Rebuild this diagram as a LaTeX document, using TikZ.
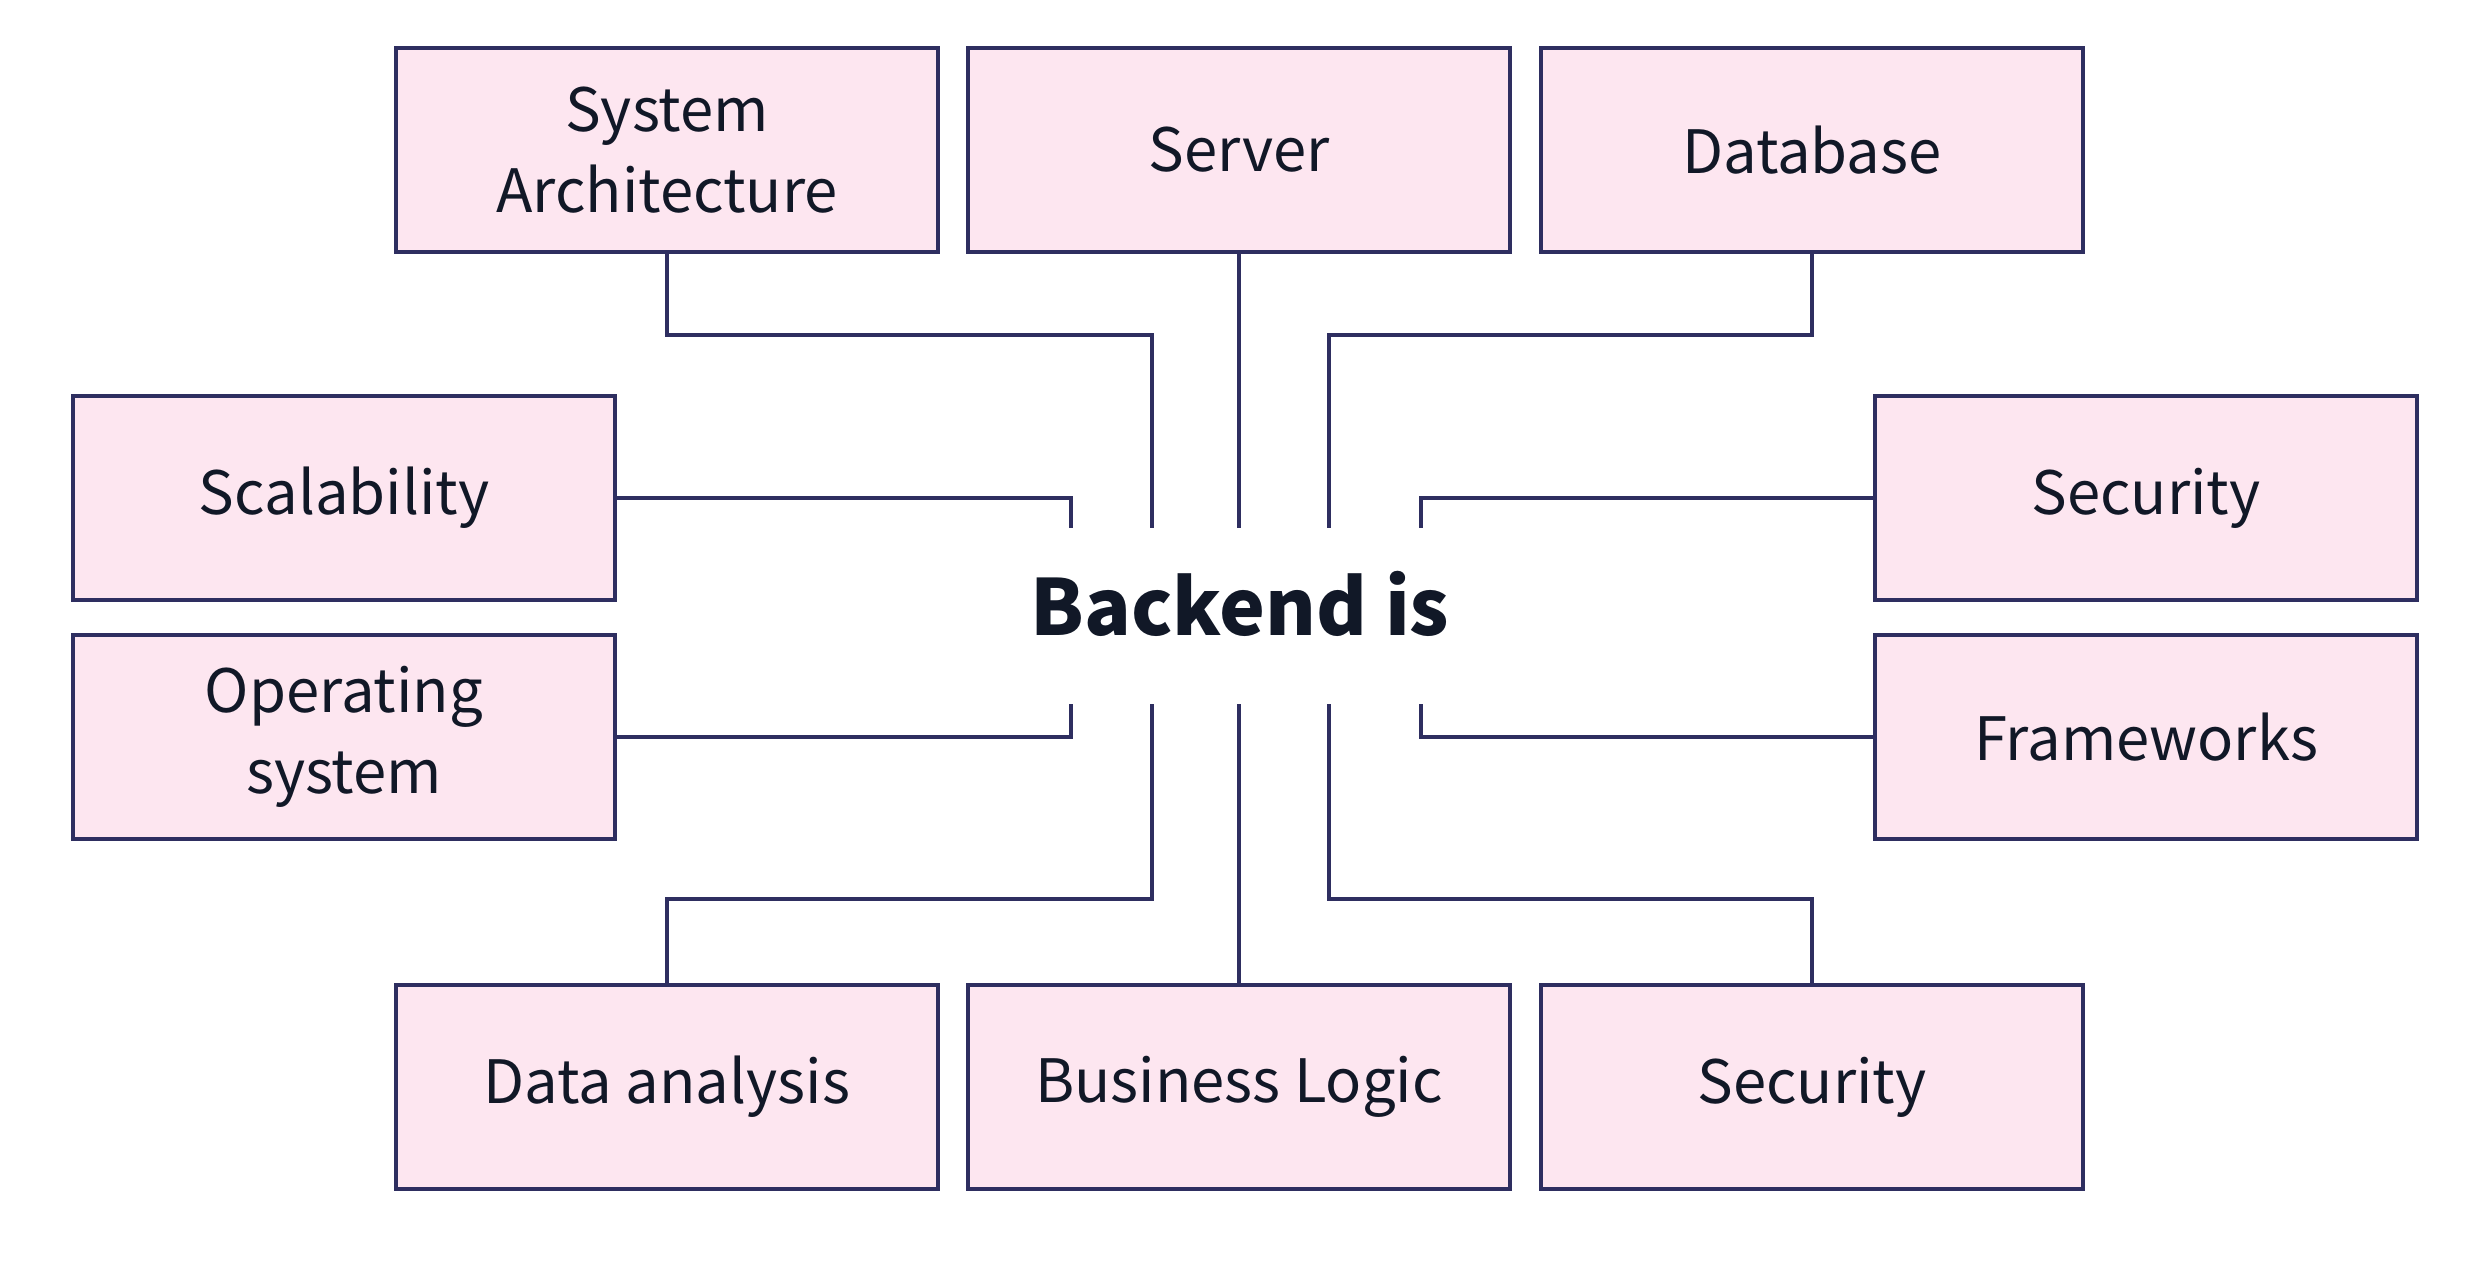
\documentclass[tikz,border=0pt]{standalone}
\usepackage{fontspec}
\setmainfont{Noto Sans CJK SC}
\definecolor{boxfill}{HTML}{FDE6F0}
\definecolor{boxline}{HTML}{2E2E60}
\definecolor{ink}{HTML}{111827}
\begin{document}
\begin{tikzpicture}[x=0.01cm,y=-0.01cm,
  item/.style={draw=boxline,fill=boxfill,line width=1.2pt,minimum width=5.41cm,minimum height=2.04cm,
    inner sep=0pt,align=center,text=ink,font=\fontsize{17}{23}\selectfont},
  link/.style={draw=boxline,line width=1.2pt}]
\useasboundingbox (0,0) rectangle (2492,1279);
\node (SA) at (667,150) [item] {System\\Architecture};
\node (Sv) at (1239,150) [item] {Server};
\node (DB) at (1812,150) [item] {Database};
\node (Sc) at (344,498) [item] {Scalability};
\node (OS) at (344,737) [item] {Operating\\system};
\node (Se) at (2146,498) [item] {Security};
\node (Fw) at (2146,737) [item] {Frameworks};
\node (DA) at (667,1087) [item] {Data analysis};
\node (BL) at (1239,1087) [item] {Business Logic};
\node (Sb) at (1812,1087) [item] {Security};
\node (B) at (1240,604) [text=ink,font=\fontsize{22}{26}\selectfont\bfseries] {Backend is};
% stub ends around the title
\coordinate (l1) at (1071,528);
\coordinate (t1) at (1152,528);
\coordinate (t2) at (1239,528);
\coordinate (t3) at (1329,528);
\coordinate (r1) at (1421,528);
\coordinate (l2) at (1071,704);
\coordinate (b1) at (1152,704);
\coordinate (b2) at (1239,704);
\coordinate (b3) at (1329,704);
\coordinate (r2) at (1421,704);
\draw[link] (SA.south) -- ++(0,81) -| (t1);
\draw[link] (Sv.south) -- (t2);
\draw[link] (DB.south) -- ++(0,81) -| (t3);
\draw[link] (Sc.east) -| (l1);
\draw[link] (OS.east) -| (l2);
\draw[link] (Se.west) -| (r1);
\draw[link] (Fw.west) -| (r2);
\draw[link] (DA.north) -- ++(0,-84) -| (b1);
\draw[link] (BL.north) -- (b2);
\draw[link] (Sb.north) -- ++(0,-84) -| (b3);
\end{tikzpicture}
\end{document}
